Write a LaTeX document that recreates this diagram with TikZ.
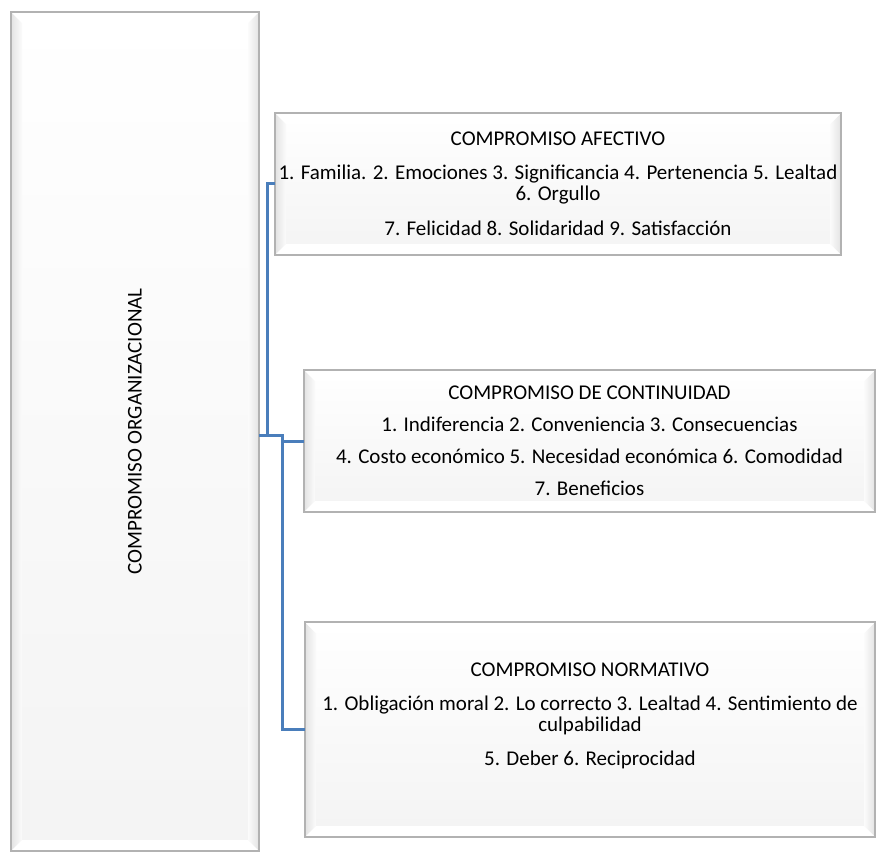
\documentclass[tikz,border=0pt]{standalone}
\usepackage{fontspec}
\setmainfont{Carlito}
\usepackage{graphicx}
\definecolor{linkblue}{HTML}{4A7EBB}
\tikzset{
  bevel/.style={draw=gray!60, line width=1.2pt, inner sep=0pt, outer sep=0pt,
    top color=white, bottom color=gray!9,
    font=\fontsize{21}{21}\selectfont, align=center,
    path picture={
      \path (path picture bounding box.north west) coordinate (A)
            (path picture bounding box.north east) coordinate (B)
            (path picture bounding box.south east) coordinate (C)
            (path picture bounding box.south west) coordinate (D);
      \shade[left color=gray!22, right color=gray!3] (A) -- ([shift={(11pt,-11pt)}]A) -- ([shift={(11pt,11pt)}]D) -- (D) -- cycle;
      \shade[right color=gray!22, left color=gray!3] (B) -- ([shift={(-11pt,-11pt)}]B) -- ([shift={(-11pt,11pt)}]C) -- (C) -- cycle;
      \fill[white] (A) -- (B) -- ([shift={(-11pt,-11pt)}]B) -- ([shift={(11pt,-11pt)}]A) -- cycle;
      \fill[white] (D) -- (C) -- ([shift={(-11pt,11pt)}]C) -- ([shift={(11pt,11pt)}]D) -- cycle;
    }},
  link/.style={draw=linkblue, line width=3pt}
}
\begin{document}
\begin{tikzpicture}[x=1pt, y=-1pt]
    \useasboundingbox (0,0) rectangle (876,853);

    % Root
    \node[bevel, minimum width=248pt, minimum height=839pt] (root) at (135,431.5)
        {\rotatebox{90}{COMPROMISO ORGANIZACIONAL}};

    % Dimensions
    \node[bevel, minimum width=566pt, minimum height=142pt] (afect) at (558,184)
        {COMPROMISO AFECTIVO\\[13pt]
         1. Familia. 2. Emociones 3. Significancia 4. Pertenencia 5. Lealtad\\
         6. Orgullo\\[14pt]
         7. Felicidad 8. Solidaridad 9. Satisfacción};
    \node[bevel, minimum width=571pt, minimum height=142pt] (conti) at (589.5,441)
        {COMPROMISO DE CONTINUIDAD\\[11pt]
         1. Indiferencia 2. Conveniencia 3. Consecuencias\\[11pt]
         4. Costo económico 5. Necesidad económica 6. Comodidad\\[11pt]
         7. Beneficios};
    \node[bevel, minimum width=570pt, minimum height=215pt] (norma) at (590,729.5)
        {COMPROMISO NORMATIVO\\[13pt]
         1. Obligación moral 2. Lo correcto 3. Lealtad 4. Sentimiento de\\
         culpabilidad\\[13pt]
         5. Deber 6. Reciprocidad\\[9pt]\mbox{}};

    % Connectors
    \coordinate (j1) at (267,435);
    \coordinate (j2) at (282,435);
    \draw[link] (afect.west) -| (j1);
    \draw[link] (root.east |- j1) -- (j2) |- (norma.west);
    \draw[link] (j2) |- (conti.west);
\end{tikzpicture}
\end{document}
